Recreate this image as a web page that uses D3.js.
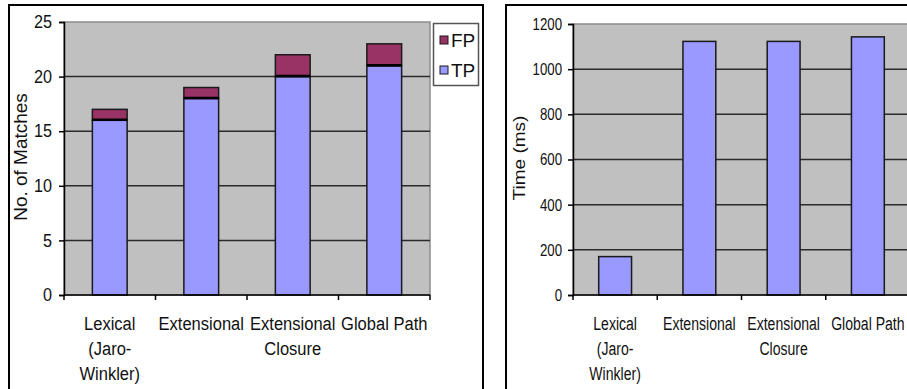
<!DOCTYPE html>
<html>
<head>
<meta charset="utf-8">
<script src="https://cdn.jsdelivr.net/npm/d3@7"></script>
<style>
  body { margin: 0; background: #fff; }
  svg { display: block; }
  .lbl { font-family: "Liberation Sans", Arial, sans-serif; fill: #111; }
  .ttl { font-family: "Liberation Sans", Arial, sans-serif; fill: #111; }
</style>
</head>
<body>
<svg id="chart" width="907" height="389"></svg>
<script>
// data
var categories = ["Lexical (Jaro-Winkler)", "Extensional", "Extensional Closure", "Global Path"];
var categoryLines = [["Lexical", "(Jaro-", "Winkler)"], ["Extensional"], ["Extensional", "Closure"], ["Global Path"]];
var tpValues = [16, 18, 20, 21];
var fpValues = [1, 1, 2, 2];
var timeValues = [170, 1123, 1123, 1143];
var matchTicks = [0, 5, 10, 15, 20, 25];
var timeTicks = [0, 200, 400, 600, 800, 1000, 1200];
var legendItems = ["FP", "TP"];

var TP_COLOR = "#9999ff",
    FP_COLOR = "#993366",
    PLOT_BG = "#c0c0c0";

var svg = d3.select("#chart");

// panel frames
svg.append("rect").attr("x", 9).attr("y", 5).attr("width", 474).attr("height", 400)
    .style("fill", "none").style("stroke", "#000").style("stroke-width", 2);
svg.append("rect").attr("x", 506).attr("y", 5).attr("width", 420).attr("height", 400)
    .style("fill", "none").style("stroke", "#000").style("stroke-width", 2);

// no narrow face is installed, so labels are squeezed with a scale
function drawPanel(opt){
    var g = svg.append("g");
    var x = d3.scaleBand().domain(categories).range([opt.x0, opt.x1])
        .paddingInner(opt.pad).paddingOuter(opt.pad / 2);
    var y = d3.scaleLinear().domain([0, opt.max]).range([opt.y0, opt.y1]);

    // plot area
    g.append("rect")
        .attr("x", opt.x0).attr("y", y(opt.max))
        .attr("width", opt.x1 - opt.x0).attr("height", y(0) - y(opt.max))
        .style("fill", PLOT_BG).style("stroke", "#8c8c8c").style("stroke-width", 1.5);

    // gridlines
    g.selectAll("line.grid")
        .data(opt.ticks.filter(function(t){ return t > 0 && t < opt.max; })).enter()
        .append("line").attr("class", "grid")
        .attr("x1", opt.x0).attr("x2", opt.x1)
        .attr("y1", function(d){ return y(d); }).attr("y2", function(d){ return y(d); })
        .style("stroke", "#2a2a2a").style("stroke-width", 1.5);

    // bars
    opt.bars(g, x, y);

    // y axis
    var yAxis = g.append("g").attr("transform", "translate(" + opt.x0 + ",0)")
        .call(d3.axisLeft(y).tickValues(opt.ticks).tickSize(5).tickPadding(6).tickFormat(d3.format("d")));
    yAxis.select(".domain").style("stroke", "#000").style("stroke-width", 1.5);
    yAxis.selectAll(".tick line").style("stroke", "#000").style("stroke-width", 1.5);
    yAxis.selectAll(".tick text").attr("class", "lbl").attr("fill", null)
        .style("font-size", opt.tickSize + "px")
        .attr("x", -opt.tickGap / opt.tickScale).attr("transform", "scale(" + opt.tickScale + ",1)");

    // x axis line with category boundary ticks
    g.append("line").attr("x1", opt.x0).attr("x2", opt.x1)
        .attr("y1", y(0)).attr("y2", y(0))
        .style("stroke", "#000").style("stroke-width", 1.5);
    var bounds = categories.map(function(c){ return x(c) - x.step() * x.paddingOuter(); });
    bounds.push(opt.x1);
    g.selectAll("line.xtick").data(bounds).enter()
        .append("line").attr("class", "xtick")
        .attr("x1", function(d){ return d; }).attr("x2", function(d){ return d; })
        .attr("y1", y(0)).attr("y2", y(0) + 5)
        .style("stroke", "#000").style("stroke-width", 1.5);

    // category labels
    categories.forEach(function(c, i){
        var t = g.append("text").attr("class", "lbl")
            .attr("text-anchor", "middle").style("font-size", "19px")
            .attr("transform", "translate(" + (x(c) + x.bandwidth() / 2) + ",330) scale(" + opt.catScale + ",1)");
        categoryLines[i].forEach(function(line, j){
            t.append("tspan").attr("x", 0)
                .attr("dy", j === 0 ? 0 : 25).text(line);
        });
    });

    // y title
    g.append("text").attr("class", "ttl")
        .attr("transform", "translate(" + opt.titleX + "," + opt.titleY + ") rotate(-90) scale(1," + opt.titleScale + ")")
        .attr("text-anchor", "middle").attr("dy", "0.35em")
        .style("font-size", "19px").text(opt.title);
}

// left: matches
drawPanel({
    x0: 64, x1: 430, y0: 295, y1: 22, max: 25, pad: 0.62,
    ticks: matchTicks, tickSize: 18, tickScale: 0.9, tickGap: 12, catScale: 0.87,
    title: "No. of Matches", titleX: 21, titleY: 157, titleScale: 0.93,
    bars: function(g, x, y){
        var stack = categories.map(function(c, i){ return {cat: c, tp: tpValues[i], fp: fpValues[i]}; });
        g.selectAll("rect.tp").data(stack).enter().append("rect").attr("class", "tp")
            .attr("x", function(d){ return x(d.cat); }).attr("width", x.bandwidth())
            .attr("y", function(d){ return y(d.tp); })
            .attr("height", function(d){ return y(0) - y(d.tp); })
            .style("fill", TP_COLOR).style("stroke", "#1a1a1a").style("stroke-width", 1.5);
        g.selectAll("rect.fp").data(stack).enter().append("rect").attr("class", "fp")
            .attr("x", function(d){ return x(d.cat); }).attr("width", x.bandwidth())
            .attr("y", function(d){ return y(d.tp + d.fp); })
            .attr("height", function(d){ return y(d.tp) - y(d.tp + d.fp); })
            .style("fill", FP_COLOR).style("stroke", "#1a1a1a").style("stroke-width", 1.5);
        // the dark seam between the two stacked parts
        g.selectAll("line.seam").data(stack).enter().append("line").attr("class", "seam")
            .attr("x1", function(d){ return x(d.cat); })
            .attr("x2", function(d){ return x(d.cat) + x.bandwidth(); })
            .attr("y1", function(d){ return y(d.tp) - 0.5; })
            .attr("y2", function(d){ return y(d.tp) - 0.5; })
            .style("stroke", "#000").style("stroke-width", 2.5);
    }
});

// legend
var legend = svg.append("g");
legend.append("rect").attr("x", 433.5).attr("y", 23.5).attr("width", 45).attr("height", 62)
    .style("fill", "#fff").style("stroke", "#555").style("stroke-width", 1.5);
legend.selectAll("rect.sw").data(legendItems).enter().append("rect").attr("class", "sw")
    .attr("x", 440).attr("y", function(d, i){ return 36 + i * 30; })
    .attr("width", 8).attr("height", 8)
    .style("fill", function(d){ return d === "FP" ? FP_COLOR : TP_COLOR; })
    .style("stroke", "#1a1a1a").style("stroke-width", 1);
legend.selectAll("text").data(legendItems).enter().append("text").attr("class", "ttl")
    .attr("x", 451).attr("y", function(d, i){ return 47 + i * 30; })
    .style("font-size", "19px").text(function(d){ return d; });

// right: time
drawPanel({
    x0: 573, x1: 910, y0: 295, y1: 24, max: 1200, pad: 0.61,
    ticks: timeTicks, tickSize: 17, tickScale: 0.78, tickGap: 11, catScale: 0.74,
    title: "Time (ms)", titleX: 519, titleY: 158, titleScale: 0.85,
    bars: function(g, x, y){
        g.selectAll("rect.time").data(timeValues).enter().append("rect").attr("class", "time")
            .attr("x", function(d, i){ return x(categories[i]); }).attr("width", x.bandwidth())
            .attr("y", function(d){ return y(d); })
            .attr("height", function(d){ return y(0) - y(d); })
            .style("fill", TP_COLOR).style("stroke", "#1a1a1a").style("stroke-width", 1.5);
    }
});
</script>
</body>
</html>
